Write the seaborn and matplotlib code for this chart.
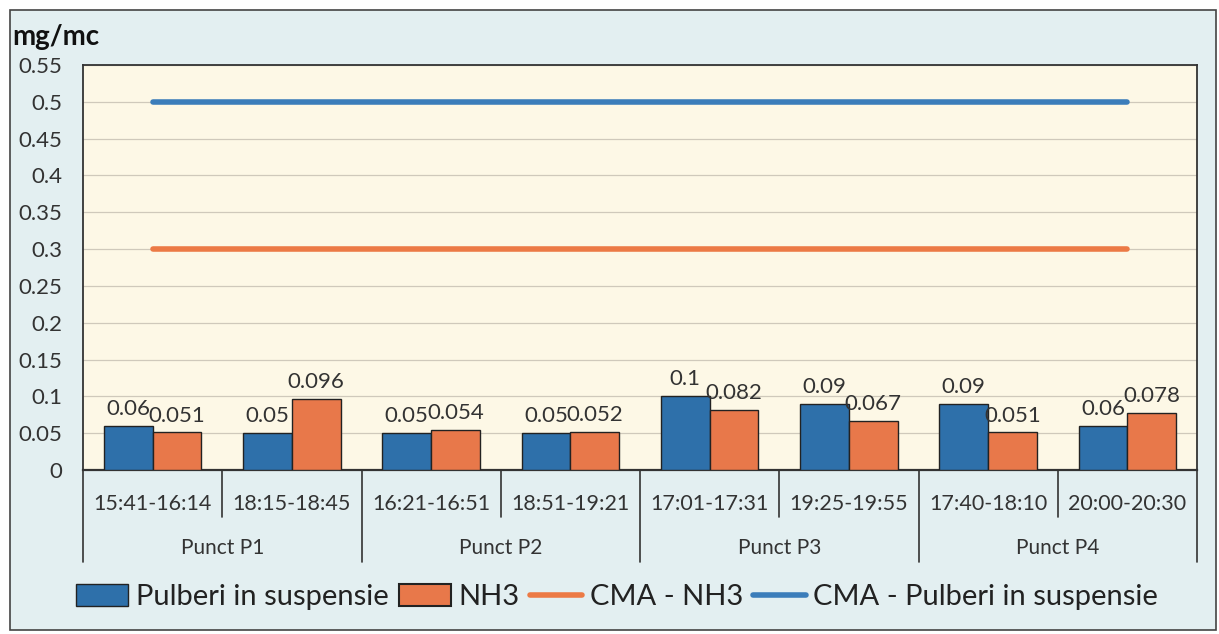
import pandas as pd
import matplotlib.pyplot as plt
import matplotlib.transforms as mtransforms
from matplotlib.patches import Patch, Rectangle
from matplotlib.lines import Line2D
import seaborn as sns

# --- data ---
intervals = ['15:41-16:14', '18:15-18:45', '16:21-16:51', '18:51-19:21',
             '17:01-17:31', '19:25-19:55', '17:40-18:10', '20:00-20:30']
points = ['Punct P1', 'Punct P2', 'Punct P3', 'Punct P4']
pulberi = [0.06, 0.05, 0.05, 0.05, 0.1, 0.09, 0.09, 0.06]
nh3 = [0.051, 0.096, 0.054, 0.052, 0.082, 0.067, 0.051, 0.078]
cma_nh3 = [0.3, 0.3, 0.3, 0.3, 0.3, 0.3, 0.3, 0.3]
cma_pulberi = [0.5, 0.5, 0.5, 0.5, 0.5, 0.5, 0.5, 0.5]
y_ticks = [0, 0.05, 0.1, 0.15, 0.2, 0.25, 0.3, 0.35, 0.4, 0.45, 0.5, 0.55]

BLUE = '#2e70aa'
ORANGE = '#e8784a'
LINE_BLUE = '#3b7dba'
LINE_ORANGE = '#ec7a45'
TXT = '#333333'

df = pd.DataFrame({
    'interval': intervals * 2,
    'series': ['Pulberi in suspensie'] * 8 + ['NH3'] * 8,
    'value': pulberi + nh3,
})

sns.set_style('white')
plt.rcParams['font.family'] = ['Lato', 'DejaVu Sans']

fig = plt.figure(figsize=(12.19, 6.34), dpi=100, facecolor='white')
# outer chart frame
fig.patches.append(Rectangle((10 / 1219, 4 / 634), 1206 / 1219, 620 / 634,
                             transform=fig.transFigure, facecolor='#e3eff1',
                             edgecolor='#444444', linewidth=1.2, zorder=-5))
ax = fig.add_axes([83 / 1219, 1 - 470 / 634, 1114 / 1219, 405 / 634])
ax.set_zorder(2)
ax.set_facecolor('#fdf8e6')

sns.barplot(data=df, x='interval', y='value', hue='series',
            palette=[BLUE, ORANGE], saturation=1, width=0.7,
            edgecolor='#222222', linewidth=1, ax=ax, legend=False, zorder=3)

for cont, vals in zip(ax.containers, [pulberi, nh3]):
    ax.bar_label(cont, labels=[f'{v:g}' for v in vals], padding=5,
                 fontsize=16, color=TXT)

xs = list(range(len(intervals)))
ax.plot(xs, cma_nh3, color=LINE_ORANGE, linewidth=4, solid_capstyle='round', zorder=4)
ax.plot(xs, cma_pulberi, color=LINE_BLUE, linewidth=4, solid_capstyle='round', zorder=4)

ax.set_xlim(-0.5, 7.5)
ax.set_ylim(0, 0.55)
ax.set_yticks(y_ticks)
ax.set_yticklabels([f'{t:g}' for t in y_ticks], fontsize=16, color=TXT)
ax.set_xticks(xs)
ax.set_xticklabels(intervals, fontsize=15.5, color=TXT)
ax.tick_params(axis='both', length=0)
ax.tick_params(axis='y', pad=15)
ax.tick_params(axis='x', pad=17)
ax.set_xlabel('')
ax.set_ylabel('')
ax.grid(axis='y', color='#cfc9bb', linewidth=0.9, zorder=0)

for side in ['top', 'right', 'left']:
    ax.spines[side].set_color(TXT)
    ax.spines[side].set_linewidth(1.3)
ax.spines['bottom'].set_color(TXT)
ax.spines['bottom'].set_linewidth(1.6)

# multi-level category axis
trans = mtransforms.blended_transform_factory(ax.transData, ax.transAxes)
for x in [0.5, 2.5, 4.5, 6.5]:
    ax.plot([x, x], [0, -0.116], color=TXT, linewidth=1.2,
            transform=trans, clip_on=False)
for x in [-0.5, 1.5, 3.5, 5.5, 7.5]:
    ax.plot([x, x], [0, -0.227], color=TXT, linewidth=1.2,
            transform=trans, clip_on=False)
for i, name in enumerate(points):
    ax.text(2 * i + 0.5, -0.193, name, transform=trans, ha='center',
            va='center', fontsize=15, color=TXT)

fig.text(12 / 1219, 1 - 37 / 634, 'mg/mc', fontsize=20, fontweight='bold',
         va='center', ha='left', color='#111111')

handles = [
    Patch(facecolor=BLUE, edgecolor='#222222', linewidth=1),
    Patch(facecolor=ORANGE, edgecolor='#222222', linewidth=1.5),
    Line2D([0], [0], color=LINE_ORANGE, linewidth=4),
    Line2D([0], [0], color=LINE_BLUE, linewidth=4),
]
labels = ['Pulberi in suspensie', 'NH3', 'CMA - NH3', 'CMA - Pulberi in suspensie']
fig.legend(handles, labels, loc='center', bbox_to_anchor=(0.506, 1 - 597 / 634),
           ncol=4, frameon=False, fontsize=21, handlelength=1.8,
           handleheight=0.8, handletextpad=0.25, columnspacing=0.35,
           labelcolor='#222222')

plt.savefig('out.png', dpi=100, facecolor=fig.get_facecolor())
